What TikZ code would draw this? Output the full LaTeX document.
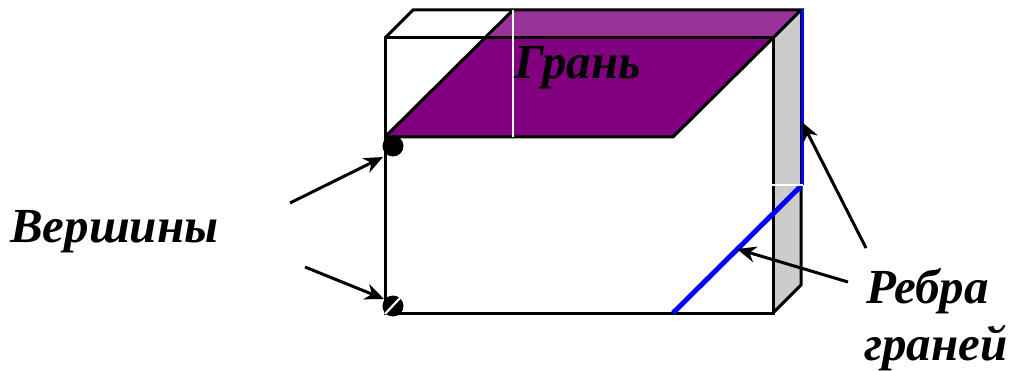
\documentclass[tikz,border=0pt]{standalone}
\usepackage{fontspec}
\setmainfont{Liberation Serif}
\usetikzlibrary{arrows.meta}
\tikzset{
  edge/.style={draw=black,line width=3pt,line join=miter},
  lab/.style={inner sep=0pt,anchor=base west,font=\fontsize{49}{56}\selectfont\bfseries\itshape,text=black},
  pointer/.style={draw=black,line width=3pt,-{Stealth[length=19pt,width=16pt,inset=6pt]}},
  vert/.style={circle,fill=black,minimum size=21pt,inner sep=0pt},
  blueedge/.style={draw=blue,line cap=butt}
}
\definecolor{darkface}{RGB}{128,0,128}
\definecolor{lightface}{RGB}{153,51,153}
\definecolor{sideface}{RGB}{204,204,204}
\begin{document}
\begin{tikzpicture}[x=1pt,y=-1pt]
\useasboundingbox (0,0) rectangle (1009,371);
% box corners
\coordinate (ftl) at (385,38);
\coordinate (ftr) at (773,38);
\coordinate (fbl) at (385,313);
\coordinate (fbr) at (773,313);
\coordinate (btl) at (413,10);
\coordinate (btr) at (801,10);
\coordinate (bbr) at (801,285);
\coordinate (pa) at (385,137);
\coordinate (pb) at (673,137);
\coordinate (pc) at (485,38);
\coordinate (pd) at (513,10);
\coordinate (wa) at (513,137);
\coordinate (wb) at (771,185);
\coordinate (wc) at (803,185);
\coordinate (we) at (801,185);
\coordinate (ua) at (802,10);
\coordinate (ub) at (802,185);
\coordinate (ba) at (673,313);
\coordinate (bb) at (801,186);
% faces
\fill[sideface] (ftr) -- (btr) -- (bbr) -- (fbr) -- cycle;
\fill[lightface] (pc) -- (pd) -- (btr) -- (ftr) -- cycle;
\fill[darkface] (pa) -- (pc) -- (ftr) -- (pb) -- cycle;
% edges
\draw[edge] (ftl) rectangle (fbr);
\draw[edge] (ftl) -- (btl) -- (btr) -- (ftr);
\draw[edge] (pa) -- (pd);
\draw[edge] (pa) -- (pb) -- (ftr);
\draw[edge] (fbr) -- (bbr) -- (bb);
% blue edges
\draw[blueedge,line width=5pt] (ba) -- (bb);
\draw[edge] (btr) -- (we);
\draw[blueedge,line width=3pt] (ua) -- (ub);
% white lines
\draw[white,line width=2.4pt] (pd) -- (wa);
\draw[white,line width=2.4pt] (wb) -- (wc);
% vertices
\node[vert] (v1) at (393,146) {};
\node[vert] (v2) at (393,306) {};
\coordinate (s1) at (385,314);
\coordinate (s2) at (400,298);
\draw[white,line width=2.2pt] (s1) -- (s2);
% labels
\node[lab] (gran) at (514,79) {Грань};
\node[lab] (vert) at (10,243) {Вершины};
\node[lab] (rebra) at (866,303) {Ребра};
\node[lab] (graney) at (864,360) {граней};
% pointers
\coordinate (a1) at (290,203);
\coordinate (t1) at (383,157);
\coordinate (a2) at (305,267);
\coordinate (t2) at (384,299);
\coordinate (a3) at (866,248);
\coordinate (t3) at (802,122);
\coordinate (a4) at (848,282);
\coordinate (t4) at (737,249);
\draw[pointer] (a1) -- (t1);
\draw[pointer] (a2) -- (t2);
\draw[pointer] (a3) -- (t3);
\draw[pointer] (a4) -- (t4);
\end{tikzpicture}
\end{document}
